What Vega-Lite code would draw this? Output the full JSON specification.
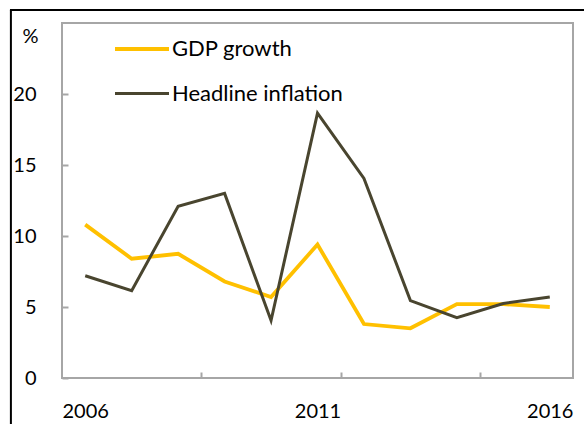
{
  "$schema": "https://vega.github.io/schema/vega-lite/v6.json",
  "width": 511,
  "height": 355,
  "autosize": {"type": "none"},
  "padding": {"left": 62, "top": 23, "right": 11, "bottom": 46},
  "background": "white",
  "config": {
    "view": {"stroke": "#a6a6a6", "strokeWidth": 2},
    "font": "Lato"
  },
  "data": {
    "values": [
      {"year": 2006, "series": "GDP growth", "value": 10.8},
      {"year": 2007, "series": "GDP growth", "value": 8.4},
      {"year": 2008, "series": "GDP growth", "value": 8.75},
      {"year": 2009, "series": "GDP growth", "value": 6.8},
      {"year": 2010, "series": "GDP growth", "value": 5.7},
      {"year": 2011, "series": "GDP growth", "value": 9.4},
      {"year": 2012, "series": "GDP growth", "value": 3.8},
      {"year": 2013, "series": "GDP growth", "value": 3.5},
      {"year": 2014, "series": "GDP growth", "value": 5.2},
      {"year": 2015, "series": "GDP growth", "value": 5.2},
      {"year": 2016, "series": "GDP growth", "value": 5.0},
      {"year": 2006, "series": "Headline inflation", "value": 7.2},
      {"year": 2007, "series": "Headline inflation", "value": 6.15},
      {"year": 2008, "series": "Headline inflation", "value": 12.1},
      {"year": 2009, "series": "Headline inflation", "value": 13.0},
      {"year": 2010, "series": "Headline inflation", "value": 4.05},
      {"year": 2011, "series": "Headline inflation", "value": 18.65},
      {"year": 2012, "series": "Headline inflation", "value": 14.05},
      {"year": 2013, "series": "Headline inflation", "value": 5.45},
      {"year": 2014, "series": "Headline inflation", "value": 4.25},
      {"year": 2015, "series": "Headline inflation", "value": 5.25},
      {"year": 2016, "series": "Headline inflation", "value": 5.7}
    ]
  },
  "layer": [
    {
      "data": {"values": [{}]},
      "mark": {"type": "rule", "color": "black", "strokeWidth": 2, "clip": false},
      "encoding": {
        "x": {"datum": 2004.4, "type": "quantitative"},
        "y": {"datum": 25.92, "type": "quantitative"},
        "y2": {"datum": -4}
      }
    },
    {
      "data": {"values": [{}]},
      "mark": {"type": "rule", "color": "black", "strokeWidth": 2, "clip": false},
      "encoding": {
        "x": {"datum": 2004.38, "type": "quantitative"},
        "x2": {"datum": 2017.5},
        "y": {"datum": 25.92, "type": "quantitative"}
      }
    },
    {
      "mark": {"type": "line"},
      "encoding": {
        "x": {
          "field": "year",
          "type": "quantitative",
          "scale": {"domain": [2005.5, 2016.5], "nice": false, "zero": false},
          "axis": {
            "values": [2006, 2008.5, 2011, 2011.5, 2014.5, 2016],
            "labelExpr": "datum.value % 1 === 0 ? format(datum.value, 'd') : ''",
            "tickOpacity": {"condition": {"test": "datum.value % 1 === 0", "value": 0}, "value": 1},
            "title": null,
            "domain": false,
            "grid": false,
            "tickSize": -6,
            "tickColor": "#a6a6a6",
            "tickWidth": 2,
            "labelPadding": 29,
            "labelFontSize": 20,
            "labelFont": "Lato",
            "labelColor": "black",
            "labelFlush": false,
            "labelOverlap": false
          }
        },
        "y": {
          "field": "value",
          "type": "quantitative",
          "scale": {"domain": [0, 25], "nice": false},
          "axis": {
            "values": [0, 5, 10, 15, 20],
            "title": "%",
            "titleAngle": 0,
            "titleX": -24,
            "titleY": 13,
            "titleAlign": "right",
            "titleBaseline": "middle",
            "titleFontWeight": "normal",
            "titleFontSize": 20,
            "titleFont": "Lato",
            "titleColor": "black",
            "domain": false,
            "grid": false,
            "tickSize": -6,
            "tickColor": "#a6a6a6",
            "tickWidth": 2,
            "labelPadding": 32,
            "labelFontSize": 20,
            "labelFont": "Lato",
            "labelColor": "black"
          }
        },
        "strokeWidth": {
          "field": "series",
          "type": "nominal",
          "scale": {"domain": ["GDP growth", "Headline inflation"], "range": [3.8, 3]},
          "legend": null
        },
        "color": {
          "field": "series",
          "type": "nominal",
          "scale": {"domain": ["GDP growth", "Headline inflation"], "range": ["#FFC000", "#49452F"]},
          "legend": {
            "orient": "none",
            "legendX": 51,
            "legendY": -3,
            "title": null,
            "symbolType": "stroke",
            "symbolSize": 2916,
            "symbolStrokeWidth": 3,
            "labelFontSize": 22,
            "labelFont": "Lato",
            "labelColor": "black",
            "labelLimit": 0,
            "labelOffset": 1,
            "rowPadding": 5
          }
        }
      }
    }
  ]
}
